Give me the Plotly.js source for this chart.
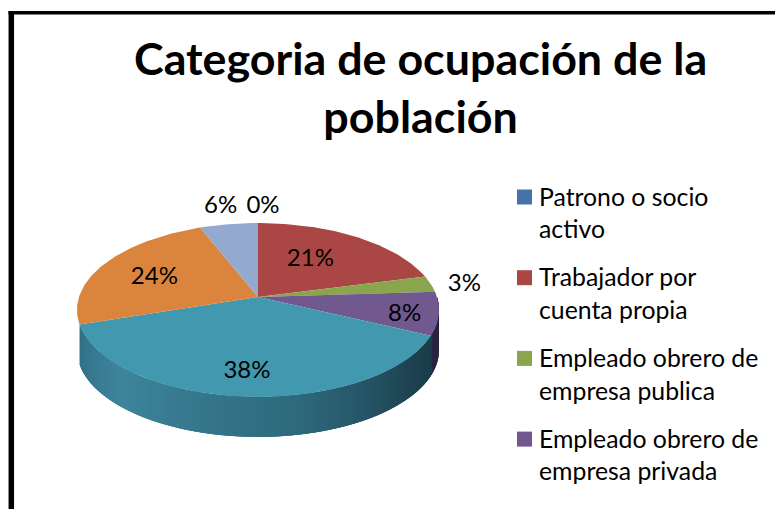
<!DOCTYPE html>
<html><head><meta charset="utf-8">
<script src="https://cdn.plot.ly/plotly-3.0.1.min.js"></script>
<style>html,body{margin:0;padding:0;background:#fff;overflow:hidden}</style>
</head><body><div id="chart" style="width:775px;height:509px"></div>
<script>
const categories = ["Patrono o socio|activo","Trabajador por|cuenta propia","Empleado obrero de|empresa publica","Empleado obrero de|empresa privada"];
const shares = [0,21,3,8,38,24,6];
const colors = ["#4572A7","#AA4643","#89A54E","#71588F","#4198AF","#DB843D","#93A9CF"];
const titleText = "Categoria de ocupación de la<br>población";

// Projection of the tilted disc onto the page
const cx=258, cy=297, a=179, b=85, k=0.149, depth=40;
const proj = th => { const u=Math.sin(th), v=Math.cos(th), d=1+k*v; return [cx+a*u/d, cy-b*v/d]; };
const total = shares.reduce((p,c)=>p+c,0);
const traces=[];
const FONT='Lato, Carlito, sans-serif';

// side wall, drawn as thin overlapping strips across the front of the rim
const stops=[[0,[48,112,134]],[0.18,[62,132,155]],[0.5,[45,106,125]],[0.75,[30,66,80]],[1,[24,50,62]]];
function shade(f){ for(let i=1;i<stops.length;i++){ if(f<=stops[i][0]){ const s=stops[i-1],e=stops[i],t=(f-s[0])/(e[0]-s[0]);
  return 'rgb('+s[1].map((c,j)=>Math.round(c+(e[1][j]-c)*t)).join(',')+')'; } } return 'rgb(24,50,62)'; }
const thStart=Math.PI*2*0.70, thEnd=Math.PI*0.5;
const N=120;
for(let i=0;i<N;i++){
  const t0=thStart-(thStart-thEnd)*i/N, t1=thStart-(thStart-thEnd)*(i+3)/N;
  const p0=proj(t0), p1=proj(Math.max(t1,thEnd));
  const col = (t0<Math.PI*2*0.32) ? '#2a2440' : shade(i/N);
  traces.push({type:'scatter',mode:'lines',x:[p0[0],p1[0],p1[0],p0[0],p0[0]],y:[p0[1],p1[1],p1[1]+depth,p0[1]+depth,p0[1]],
    fill:'toself',fillcolor:col,line:{width:0},hoverinfo:'skip',showlegend:false});
}

// top face wedges
let acc=0;
shares.forEach((s,i)=>{
  const st=acc/total*2*Math.PI, en=(acc+s)/total*2*Math.PI; acc+=s;
  const xs=[cx], ys=[cy];
  const n=Math.max(2,Math.ceil(s*3));
  for(let j=0;j<=n;j++){ const p=proj(st+(en-st)*j/n); xs.push(p[0]); ys.push(p[1]); }
  xs.push(cx); ys.push(cy);
  if(s>0) traces.push({type:'scatter',mode:'lines',x:xs,y:ys,fill:'toself',fillcolor:colors[i],line:{width:0},hoverinfo:'skip',showlegend:false});
});

// legend: swatch and two text lines per entry
const legendTop=197, legendStep=80.7, legendLine=32.5, swatchX=524.5, legendTextX=539, legendTextDrop=2.5;
traces.push({type:'scatter',mode:'markers',x:categories.map(()=>swatchX),y:categories.map((c,i)=>legendTop+i*legendStep),
  marker:{symbol:'square',size:15,color:colors.slice(0,categories.length),line:{width:0}},hoverinfo:'skip',showlegend:false});
const legTx=[],legTy=[],legTt=[];
categories.forEach((c,i)=>c.split('|').forEach((ln,j)=>{legTx.push(legendTextX);legTy.push(legendTop+legendTextDrop+i*legendStep+j*legendLine);legTt.push(ln);}));
traces.push({type:'scatter',mode:'text',x:legTx,y:legTy,text:legTt,textposition:'middle right',
  textfont:{family:FONT,size:24.8,color:'#000'},hoverinfo:'skip',showlegend:false});

// percentage labels placed around each slice's mid angle
const labelRadius=[1.02,0.62,1.2,0.82,0.72,0.66,1.33];
const labelNudge=[[5,-15],[-11,2],[0,4],[-1,5],[-2,7],[-1,4],[0,3]];
const lx=[],ly=[],lt=[];
acc=0;
shares.forEach((s,i)=>{
  const m=(acc+s/2)/total*2*Math.PI; acc+=s;
  const u=Math.sin(m)*labelRadius[i], v=Math.cos(m)*labelRadius[i], d=1+k*v;
  lx.push(cx+a*u/d+labelNudge[i][0]); ly.push(cy-b*v/d+labelNudge[i][1]); lt.push(Math.round(s/total*100)+'%');
});
traces.push({type:'scatter',mode:'text',x:lx,y:ly,text:lt,textposition:'middle center',
  textfont:{family:FONT,size:24,color:'#000'},hoverinfo:'skip',showlegend:false});

const layout={
  width:775,height:509,margin:{l:0,r:0,t:0,b:0},paper_bgcolor:'#fff',plot_bgcolor:'#fff',
  xaxis:{range:[0,775],visible:false,fixedrange:true},
  yaxis:{range:[509,0],visible:false,fixedrange:true},
  shapes:[
    {type:'line',xref:'x',yref:'y',x0:11.3,y0:11,x1:11.3,y1:520,line:{color:'#000',width:5.5},layer:'below'},
    {type:'line',xref:'x',yref:'y',x0:8.5,y0:12.7,x1:790,y1:12.7,line:{color:'#000',width:3.4},layer:'below'}
  ],
  annotations:[{text:titleText,xref:'x',yref:'y',x:420,y:87,xanchor:'center',yanchor:'middle',showarrow:false,
    font:{family:FONT,size:44.8,color:'#000',weight:700},align:'center'}],
  showlegend:false
};
Plotly.newPlot('chart',traces,layout,{displayModeBar:false,staticPlot:true});
</script></body></html>
